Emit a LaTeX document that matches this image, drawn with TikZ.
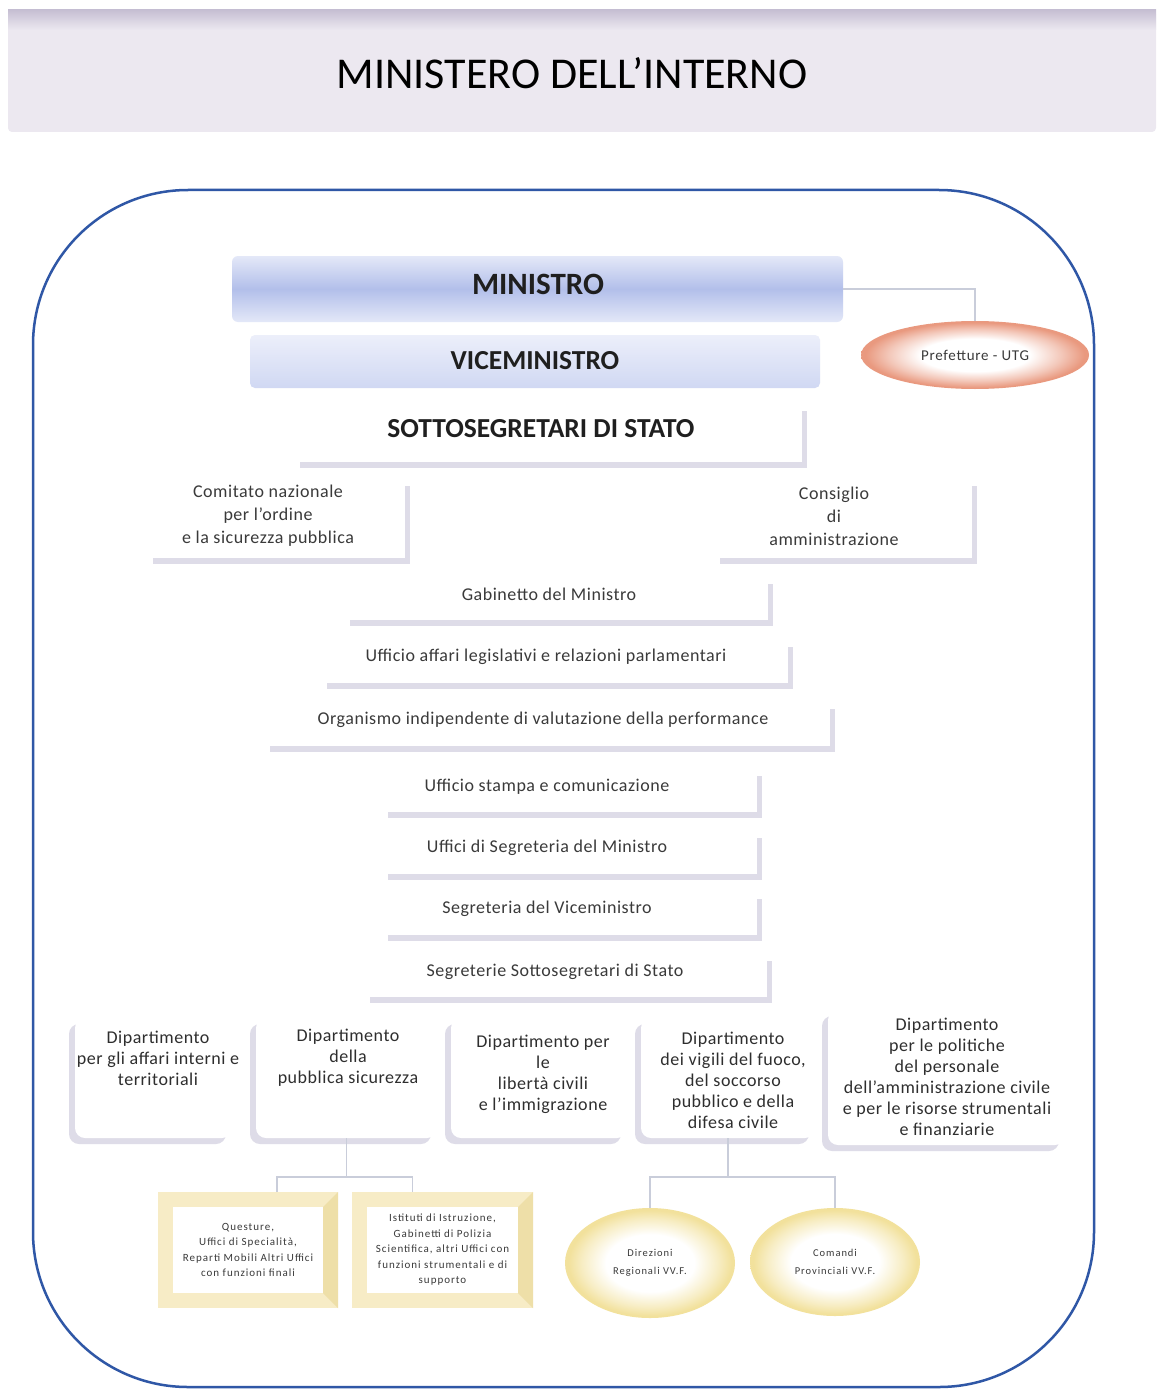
\documentclass[tikz,border=0pt]{standalone}
\usepackage{fontspec}
\setmainfont{Carlito}
\newfontfamily\spc[LetterSpace=3]{Carlito}
\newfontfamily\spcp[LetterSpace=5]{Carlito}
\newfontfamily\spcw[LetterSpace=9]{Carlito}
\usetikzlibrary{shadows,shapes.geometric}
\definecolor{frameblue}{HTML}{2F57A6}
\definecolor{shadowc}{HTML}{DEDCE8}
\definecolor{bandc}{HTML}{ECE8F0}
\definecolor{bandtop}{HTML}{C6BFD3}
\definecolor{blueA}{HTML}{E4E8F8}
\definecolor{blueB}{HTML}{B2BFEA}
\definecolor{blueC}{HTML}{D0D8F3}
\definecolor{salmon}{HTML}{E9997F}
\definecolor{ylw}{HTML}{F7ECC6}
\definecolor{ylwdark}{HTML}{EEDFA8}
\definecolor{ylwell}{HTML}{F2E19C}
\definecolor{connc}{HTML}{C9CDDA}
\definecolor{txt}{HTML}{3A3A3A}
\pgfdeclareradialshading{prefsh}{\pgfpoint{0bp}{0bp}}{color(0bp)=(white); color(12bp)=(white); color(19bp)=(salmon!55!white); color(24bp)=(salmon); color(50bp)=(salmon)}
\pgfdeclareradialshading{yelsh}{\pgfpoint{0bp}{0bp}}{color(0bp)=(white); color(13bp)=(white); color(20bp)=(ylwell!60!white); color(24bp)=(ylwell); color(50bp)=(ylwell)}
\begin{document}
\begin{tikzpicture}[x=1pt,y=-1pt,
  conn/.style={draw=connc, line width=1.2pt},
  wbox/.style={fill=white, inner sep=0pt, drop shadow={shadow xshift=5pt, shadow yshift=-6pt, fill=shadowc, opacity=1}},
  wtext/.style={align=center, text=txt, inner sep=0pt, font=\spc\fontsize{18}{23}\selectfont},
  dbox/.style={fill=white, inner sep=0pt, rounded corners=10pt, drop shadow={shadow xshift=-6pt, shadow yshift=-6pt, fill=shadowc, opacity=1}},
  dtext/.style={align=center, text=txt!80!black, inner sep=0pt, font=\spc\fontsize{18}{21}\selectfont},
  btitle/.style={align=center, text=black!88, inner sep=0pt, font=\bfseries\fontsize{27.5}{32}\selectfont},
  ybox/.style={fill=white, draw=ylw, line width=15pt, outer sep=7.5pt, align=center, text=txt, inner sep=0pt, font=\spcw\fontsize{11}{15.5}\selectfont},
  yell/.style={ellipse, shade, shading=yelsh, align=center, text=txt, inner sep=0pt, font=\spcw\fontsize{10.5}{18}\selectfont},
]
\useasboundingbox (0,0) rectangle (1156,1391);
\fill[white] (0,0) rectangle (1156,1391);

% title band
\fill[bandc, rounded corners=4pt] (8,10) rectangle (1156,132);
\shade[top color=bandtop, bottom color=bandc] (8,10) rectangle (1156,30);
\node[text=black, inner sep=0pt, font=\fontsize{44}{50}\selectfont] (title) at (572,73) {MINISTERO DELL’INTERNO};

% frame
\draw[frameblue, line width=2.5pt, rounded corners=155pt] (33,190) rectangle (1094,1387);

% top
\node[minimum width=611pt, minimum height=66pt, rounded corners=6pt, top color=blueA, bottom color=blueA, middle color=blueB, inner sep=0pt] (min) at (537.5,289) {};
\node[btitle, font=\bfseries\fontsize{31}{36}\selectfont] (mint) at (538,284) {MINISTRO};
\node[minimum width=570pt, minimum height=53pt, rounded corners=5pt, top color=blueA!70!white, bottom color=blueC, inner sep=0pt] (vice) at (535,361.5) {};
\node[btitle] (vicet) at (535,361) {VICEMINISTRO};
\node[ellipse, shade, shading=prefsh, minimum width=228pt, minimum height=68pt, inner sep=0pt, text=txt, font=\spcp\fontsize{15}{18}\selectfont] (pref) at (975,355) {Prefetture - UTG};
\draw[conn] (min.east) -| (pref.north);

\node[wbox, minimum width=507pt, minimum height=57pt] (sotb) at (548.5,433.5) {};
\node[btitle] (sot) at (541,429) {SOTTOSEGRETARI DI STATO};

% side boxes
\node[wbox, minimum width=257pt, minimum height=78pt] (comb) at (276.5,519) {};
\node[wtext] (com) at (268,516) {Comitato nazionale\\per l’ordine\\e la sicurezza pubblica};
\node[wbox, minimum width=257pt, minimum height=78pt] (conb) at (843.5,519) {};
\node[wtext] (con) at (834,516) {Consiglio\\di\\amministrazione};

% central list
\node[wbox, minimum width=423pt, minimum height=42pt] (gabb) at (556.5,599) {};
\node[wtext] (gab) at (549,594) {Gabinetto del Ministro};
\node[wbox, minimum width=466pt, minimum height=42pt] (uffb) at (555,662) {};
\node[wtext] (uff) at (546,657) {Ufficio affari legislativi e relazioni parlamentari};
\node[wbox, minimum width=565pt, minimum height=43pt] (orgb) at (547.5,724.5) {};
\node[wtext] (org) at (543,720) {Organismo indipendente di valutazione della performance};
\node[wbox, minimum width=374pt, minimum height=42pt] (stab) at (570,791) {};
\node[wtext] (sta) at (547,787) {Ufficio stampa e comunicazione};
\node[wbox, minimum width=374pt, minimum height=42pt] (segmb) at (570,853) {};
\node[wtext] (segm) at (547,848) {Uffici di Segreteria del Ministro};
\node[wbox, minimum width=374pt, minimum height=42pt] (segvb) at (570,914) {};
\node[wtext] (segv) at (547,909) {Segreteria del Viceministro};
\node[wbox, minimum width=402pt, minimum height=42pt] (segsb) at (566,976) {};
\node[wtext] (segs) at (555,972) {Segreterie Sottosegretari di Stato};

% departments
\node[dbox, minimum width=157pt, minimum height=120pt] (d1) at (153.5,1078) {};
\node[dtext] (d1t) at (158,1058) {Dipartimento\\per gli affari interni e\\territoriali};
\node[dbox, minimum width=181pt, minimum height=120pt] (d2) at (346.5,1078) {};
\node[dtext] (d2t) at (348,1058) {Dipartimento\\della\\pubblica sicurezza};
\node[dbox, minimum width=176pt, minimum height=120pt] (d3) at (539,1078) {};
\node[dtext] (d3t) at (543,1074.5) {Dipartimento per\\le\\libertà civili\\e l’immigrazione};
\node[dbox, minimum width=174pt, minimum height=120pt] (d4) at (728,1078) {};
\node[dtext] (d4t) at (733,1080.5) {Dipartimento\\dei vigili del fuoco,\\del soccorso\\pubblico e della\\difesa civile};
\node[dbox, minimum width=237pt, minimum height=135pt] (d5) at (946.5,1077.5) {};
\node[dtext] (d5t) at (947,1077) {Dipartimento\\per le politiche\\del personale\\dell’amministrazione civile\\e per le risorse strumentali\\e finanziarie};

% lower level
\node[ybox, minimum width=165pt, minimum height=101pt] (y1) at (248,1250) {Questure,\\Uffici di Specialità,\\Reparti Mobili Altri Uffici\\con funzioni finali};
\node[ybox, minimum width=166pt, minimum height=101pt] (y2) at (442.5,1250) {Istituti di Istruzione,\\Gabinetti di Polizia\\Scientifica, altri Uffici con\\funzioni strumentali e di\\supporto};
% bevel on right side of the yellow frames
\fill[ylwdark] (y1.north east) -- ++(-15,15) -- ([xshift=-15pt,yshift=15pt]y1.south east) -- (y1.south east) -- cycle;
\fill[ylwdark] (y2.north east) -- ++(-15,15) -- ([xshift=-15pt,yshift=15pt]y2.south east) -- (y2.south east) -- cycle;
\node[yell, minimum width=170pt, minimum height=110pt] (dir) at (650,1263) {Direzioni\\Regionali VV.F.};
\node[yell, minimum width=170pt, minimum height=108pt] (cmd) at (835,1262) {Comandi\\Provinciali VV.F.};

\coordinate (j1) at (d2.south |- 0,1177);
\draw[conn] (d2.south) -- (j1);
\draw[conn] ([xshift=29pt]y1.north) |- (j1) -| ([xshift=-30pt]y2.north);
\coordinate (j2) at (d4.south |- 0,1177);
\draw[conn] (d4.south) -- (j2);
\draw[conn] (dir.north) |- (j2) -| (cmd.north);
\end{tikzpicture}
\end{document}
